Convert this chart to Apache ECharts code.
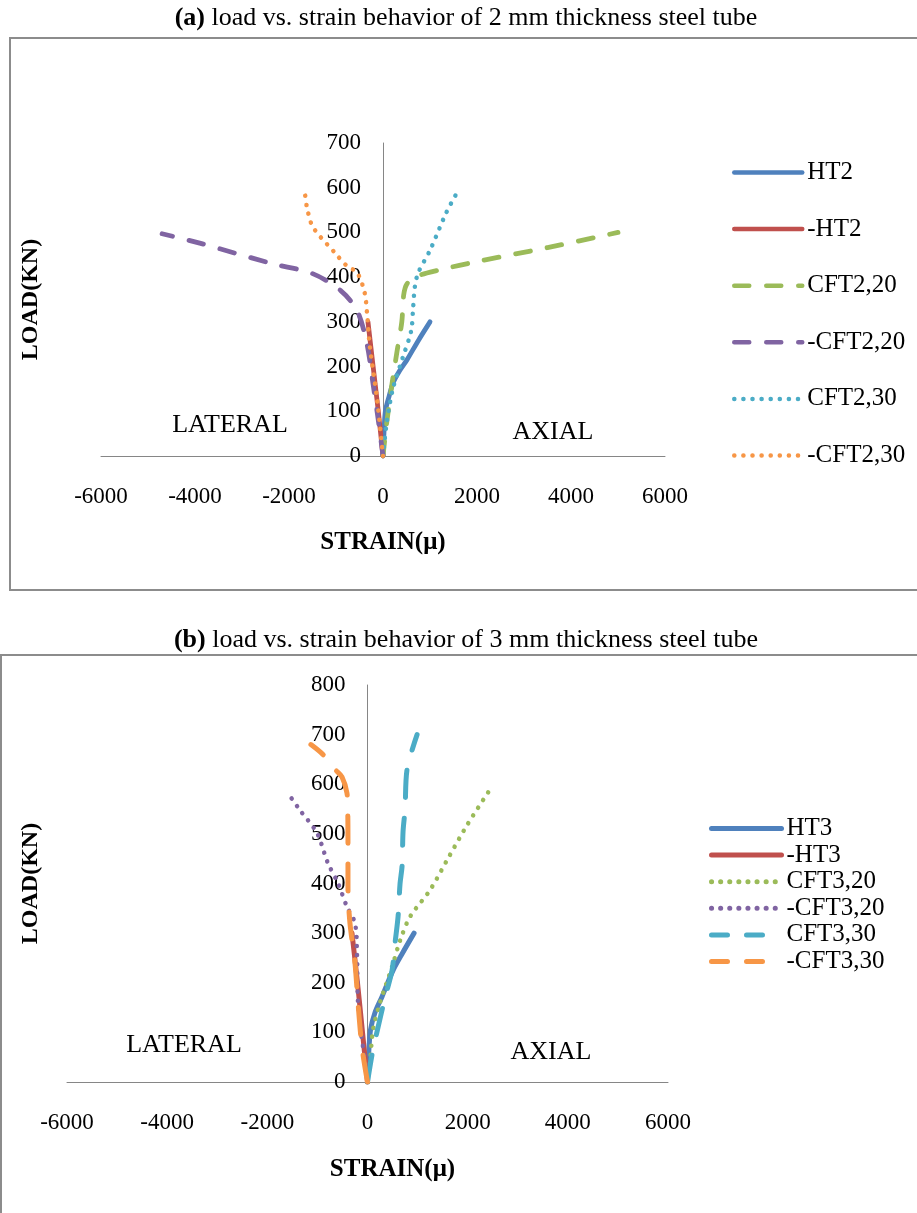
<!DOCTYPE html>
<html><head><meta charset="utf-8">
<script src="https://cdn.jsdelivr.net/npm/echarts@6/dist/echarts.min.js"></script>
<style>html,body{margin:0;padding:0;background:#fff}#c{width:917px;height:1213px}</style>
</head><body><div id="c"></div>
<script>
// ---- Chart (a): 2 mm tube ----
const xTicksA = [-6000, 6000, 2000];   // min, max, interval
const yTicksA = [0, 700, 100];
const HT2 = [[0,0],[20,50],[50,100],[120,130],[213,163],[350,190],[510,215],[750,258],[1000,300]];
const negHT2 = [[0,0],[-100,100],[-210,200],[-320,300]];
const CFT2_20 = [[0,0],[80,75],[190,160],[300,235],[400,300],[440,360],[510,385],[720,402],[1150,415],[2100,437],[3500,466],[5000,500]];
const negCFT2_20 = [[0,0],[-100,80],[-210,160],[-340,250],[-550,325],[-900,370],[-1500,408],[-2350,430],[-3900,476],[-4700,497]];
const CFT2_30 = [[0,0],[80,75],[210,150],[420,220],[600,280],[640,330],[680,380],[750,410],[1000,460],[1350,545],[1570,588]];
const negCFT2_30 = [[0,0],[-130,130],[-280,245],[-340,320],[-390,365],[-550,410],[-770,425],[-1020,454],[-1490,512],[-1620,557],[-1660,588]];

// ---- Chart (b): 3 mm tube ----
const xTicksB = [-6000, 6000, 2000];
const yTicksB = [0, 800, 100];
const HT3 = [[0,0],[20,50],[60,105],[150,140],[290,172],[510,225],[700,260],[930,300]];
const negHT3 = [[0,0],[-100,100],[-200,200],[-310,300]];
const CFT3_20 = [[0,0],[50,40],[110,105],[250,160],[490,232],[650,285],[850,333],[1250,387],[1610,451],[1990,518],[2450,590]];
const negCFT3_20 = [[0,0],[-60,50],[-130,100],[-190,160],[-210,260],[-250,320],[-410,353],[-590,401],[-790,441],[-1010,502],[-1350,548],[-1610,585]];
const CFT3_30 = [[0,0],[100,60],[210,110],[350,170],[490,225],[550,280],[610,333],[650,400],[690,435],[710,505],[750,550],[790,630],[990,700]];
const negCFT3_30 = [[0,0],[-110,70],[-190,160],[-250,240],[-350,320],[-390,393],[-390,480],[-395,550],[-410,582],[-510,615],[-650,630],[-890,660],[-1130,680]];

const namesA = ['HT2','-HT2','CFT2,20','-CFT2,20','CFT2,30','-CFT2,30'];
const namesB = ['HT3','-HT3','CFT3,20','-CFT3,20','CFT3,30','-CFT3,30'];

const FF = '"Liberation Serif", "Times New Roman", serif';
const C = {blue:'#4F81BD', red:'#C0504D', green:'#9BBB59', purple:'#8064A2', teal:'#4BACC6', orange:'#F79646'};

function line(name, data, color, type, width, idx){
  return {
    type:'line', name, data, xAxisIndex:idx, yAxisIndex:idx,
    symbol:'none', showSymbol:false, smooth:0.3, animation:false,
    lineStyle:{color, width, type, cap:'round', join:'round'},
    itemStyle:{color}
  };
}
const DASH_A = [15, 17], DOT = [0.1, 9];
const DASH_B = [27, 21];

function xAxis(idx, t, gap, pad){
  return {
    type:'value', gridIndex:idx, min:t[0], max:t[1], interval:t[2],
    axisLine:{show:true, onZero:true, lineStyle:{color:'#868686', width:1}},
    axisTick:{show:false}, splitLine:{show:false},
    axisLabel:{margin:29, color:'#000', fontFamily:FF, fontSize:23, formatter:(v)=>String(v)},
    name:'STRAIN(μ)', nameLocation:'middle', nameGap:gap,
    nameTextStyle:{color:'#000', fontFamily:FF, fontSize:25, fontWeight:'bold', padding:pad}
  };
}
function yAxis(idx, t, off, gap){
  return {
    type:'value', gridIndex:idx, min:t[0], max:t[1], interval:t[2], position:'left', offset:off,
    axisLine:{show:true, onZero:false, lineStyle:{color:'#868686', width:1}},
    axisTick:{show:false}, splitLine:{show:false},
    axisLabel:{margin:22, color:'#000', fontFamily:FF, fontSize:23, formatter:(v)=>String(v)},
    name:'LOAD(KN)', nameLocation:'middle', nameGap:gap, nameRotate:90,
    nameTextStyle:{color:'#000', fontFamily:FF, fontSize:24, fontWeight:'bold'}
  };
}

const chart = echarts.init(document.getElementById('c'), null, {renderer:'canvas'});
chart.setOption({
  animation:false,
  backgroundColor:'#fff',
  grid:[
    {left:101, top:143, width:564, height:313, containLabel:false, outerBoundsMode:'none'},
    {left:67, top:685, width:601, height:397, containLabel:false, outerBoundsMode:'none'}
  ],
  xAxis:[xAxis(0, xTicksA, 74, [0,0,0,0]), xAxis(1, xTicksB, 75, [0,0,0,50])],
  yAxis:[yAxis(0, yTicksA, -282, 340), yAxis(1, yTicksB, -300.5, 325)],
  legend:[
    {orient:'vertical', left:727, top:155, itemWidth:68, itemHeight:14, itemGap:31.6,
     itemStyle:{opacity:0}, lineStyle:{width:4.5, cap:'round'},
     textStyle:{fontFamily:FF, fontSize:25, color:'#000', lineHeight:22},
     data:namesA},
    {orient:'vertical', left:704, top:811, itemWidth:70, itemHeight:14, itemGap:1.6,
     itemStyle:{opacity:0}, lineStyle:{width:5, cap:'round'},
     textStyle:{fontFamily:FF, fontSize:25, color:'#000', lineHeight:22},
     data:[namesB[0], namesB[1], namesB[2], namesB[3],
           {name:namesB[4], lineStyle:{type:[16,19]}}, {name:namesB[5], lineStyle:{type:[16,19]}}]}
  ],
  series:[
    line(namesA[0], HT2, C.blue, 'solid', 4.8, 0),
    line(namesA[1], negHT2, C.red, 'solid', 4.8, 0),
    line(namesA[2], CFT2_20, C.green, DASH_A, 4.8, 0),
    line(namesA[3], negCFT2_20, C.purple, DASH_A, 4.8, 0),
    line(namesA[4], CFT2_30, C.teal, DOT, 4.5, 0),
    line(namesA[5], negCFT2_30, C.orange, DOT, 4.5, 0),
    line(namesB[0], HT3, C.blue, 'solid', 5, 1),
    line(namesB[1], negHT3, C.red, 'solid', 5, 1),
    line(namesB[2], CFT3_20, C.green, DOT, 4.5, 1),
    line(namesB[3], negCFT3_20, C.purple, DOT, 4.5, 1),
    line(namesB[4], CFT3_30, C.teal, DASH_B, 5, 1),
    line(namesB[5], negCFT3_30, C.orange, DASH_B, 5, 1)
  ],
  graphic:[
    {type:'rect', z:-1, shape:{x:10, y:38, width:930, height:552}, style:{fill:'none', stroke:'#8c8c8c', lineWidth:2}},
    {type:'rect', z:-1, shape:{x:1, y:655, width:940, height:600}, style:{fill:'none', stroke:'#8c8c8c', lineWidth:2}},
    {type:'text', x:466, y:18, style:{text:'{b|(a)} load vs. strain behavior of 2 mm thickness steel tube', align:'center', verticalAlign:'middle', fontFamily:FF, fontSize:26, fill:'#000', rich:{b:{fontFamily:FF, fontSize:26, fontWeight:'bold', fill:'#000'}}}},
    {type:'text', x:466, y:640, style:{text:'{b|(b)} load vs. strain behavior of 3 mm thickness steel tube', align:'center', verticalAlign:'middle', fontFamily:FF, fontSize:26, fill:'#000', rich:{b:{fontFamily:FF, fontSize:26, fontWeight:'bold', fill:'#000'}}}},
    {type:'text', x:230, y:425, style:{text:'LATERAL', align:'center', verticalAlign:'middle', fontFamily:FF, fontSize:26, fill:'#000'}},
    {type:'text', x:553, y:432, style:{text:'AXIAL', align:'center', verticalAlign:'middle', fontFamily:FF, fontSize:26, fill:'#000'}},
    {type:'text', x:184, y:1045, style:{text:'LATERAL', align:'center', verticalAlign:'middle', fontFamily:FF, fontSize:26, fill:'#000'}},
    {type:'text', x:551, y:1052, style:{text:'AXIAL', align:'center', verticalAlign:'middle', fontFamily:FF, fontSize:26, fill:'#000'}}
  ]
});
</script>
</body></html>
